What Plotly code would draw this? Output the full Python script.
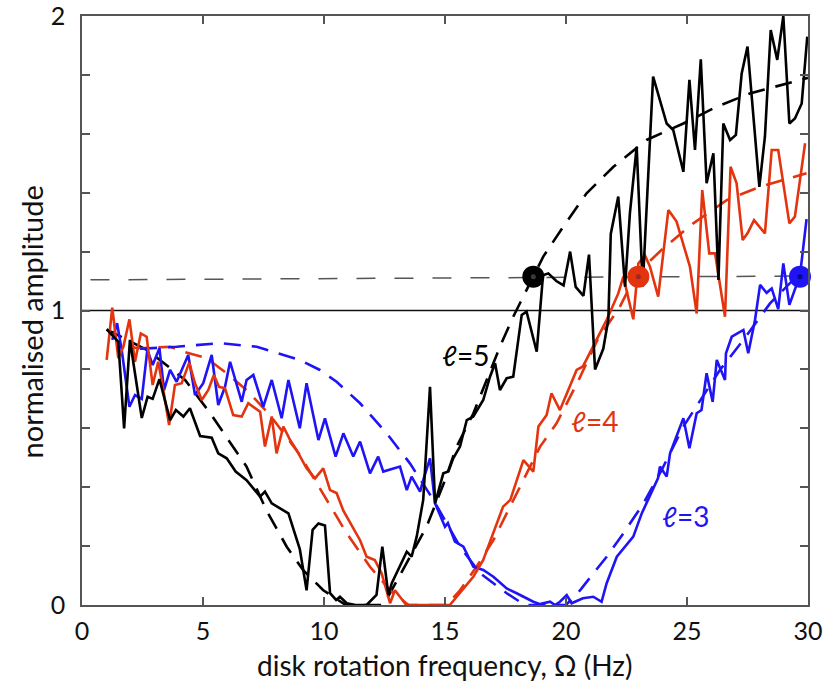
import plotly.graph_objects as go

# ---------------- data ----------------
bk_x = [1.02, 1.5, 1.74, 1.98, 2.47, 2.71, 2.92, 3.2, 3.64, 3.88, 4.19, 4.46, 4.88, 5.36, 5.63, 5.98,
        6.35, 6.8, 7.36, 7.56, 7.84, 8.53, 9.0, 9.28, 9.53, 9.77, 10.04, 10.25, 10.5, 10.66, 10.94,
        11.3, 11.76, 12.17, 12.41, 12.66, 12.8, 13.14, 13.42, 13.62, 13.83, 14.1, 14.38, 14.59, 14.93,
        15.14, 15.34, 15.62, 15.9, 16.17, 16.58, 16.86, 17.07, 17.27, 17.55, 17.82, 18.17, 18.37, 18.79,
        19.05, 19.27, 19.6, 19.9, 20.17, 20.4, 20.72, 20.95, 21.2, 21.54, 21.75, 21.85, 22.16, 22.44,
        22.64, 22.92, 23.17, 23.6, 24.16, 24.43, 24.85, 25.1, 25.33, 25.57, 25.81, 26.09, 26.3, 26.5,
        26.78, 27.02, 27.26, 27.5, 27.99, 28.22, 28.46, 28.73, 28.98, 29.23, 29.46, 29.74, 29.97]
bk_y = [0.936, 0.894, 0.60, 0.90, 0.635, 0.707, 0.70, 0.767, 0.628, 0.662, 0.64, 0.668, 0.574, 0.568,
        0.515, 0.498, 0.453, 0.424, 0.368, 0.385, 0.345, 0.311, 0.19, 0.05, 0.255, 0.277, 0.27, 0.04,
        0.017, 0.028, 0.006, 0.0, 0.0, 0.034, 0.198, 0.034, 0.074, 0.13, 0.181, 0.164, 0.232, 0.357,
        0.741, 0.345, 0.447, 0.453, 0.498, 0.538, 0.628, 0.64, 0.696, 0.775, 0.821, 0.73, 0.77, 0.775,
        0.985, 0.996, 0.86, 1.12, 1.126, 1.10, 1.085, 1.2, 1.08, 1.05, 1.19, 0.80, 0.87, 0.97, 1.26,
        1.387, 1.081, 1.33, 1.556, 1.081, 1.794, 1.635, 1.613, 1.471, 1.783, 1.545, 1.853, 1.432,
        1.534, 1.104, 1.635, 1.579, 1.596, 1.805, 1.896, 1.42, 1.59, 1.952, 1.851, 2.0, 1.635, 1.652,
        1.703, 1.93]

bkf_x = [1.02, 2.67, 3.22, 4.26, 5.29, 6.12, 6.8, 7.63, 8.46, 9.14, 9.97, 10.9, 12.45, 12.73, 14.24,
         15.0, 15.48, 16.17, 16.72, 17.27, 17.82, 19.06, 19.89, 20.85, 21.96, 23.33, 24.85, 26.23,
         27.6, 29.67, 30.0]
bkf_y = [0.936, 0.866, 0.832, 0.764, 0.652, 0.55, 0.47, 0.32, 0.198, 0.118, 0.05, 0.0, 0.0, 0.04,
         0.266, 0.424, 0.538, 0.65, 0.764, 0.877, 0.979, 1.183, 1.285, 1.398, 1.488, 1.579, 1.635,
         1.692, 1.737, 1.783, 1.79]

rd_x = [1.02, 1.25, 1.5, 1.71, 1.96, 2.19, 2.43, 2.67, 2.92, 3.15, 3.36, 3.6, 3.84, 4.12, 4.43, 4.67,
        4.95, 5.22, 5.45, 5.66, 5.91, 6.25, 6.6, 6.87, 7.36, 7.56, 7.84, 8.04, 8.32, 8.6, 8.87, 9.28,
        9.63, 9.97, 10.25, 10.52, 10.8, 11.07, 11.49, 11.76, 12.1, 12.38, 12.73, 12.93, 13.4, 15.2,
        15.6, 16.17, 16.58, 17.0, 17.4, 17.7, 17.96, 18.24, 18.65, 18.86, 19.2, 19.4, 19.75, 20.03,
        20.44, 20.7, 21.13, 21.68, 22.16, 22.37, 22.78, 22.99, 23.26, 23.47, 23.81, 24.23, 24.57,
        25.12, 25.4, 25.63, 25.92, 26.16, 26.57, 26.8, 27.05, 27.3, 27.5, 27.77, 28.22, 28.5, 28.77,
        29.23, 29.46, 29.88]
rd_y = [0.832, 1.01, 0.838, 0.877, 0.97, 0.826, 0.922, 0.911, 0.747, 0.826, 0.73, 0.611, 0.747, 0.753,
        0.823, 0.753, 0.696, 0.73, 0.781, 0.741, 0.736, 0.645, 0.64, 0.685, 0.656, 0.538, 0.64, 0.515,
        0.606, 0.56, 0.526, 0.464, 0.43, 0.464, 0.39, 0.38, 0.32, 0.28, 0.22, 0.164, 0.153, 0.108,
        0.006, 0.05, 0.0, 0.0, 0.04, 0.096, 0.153, 0.243, 0.334, 0.357, 0.424, 0.492, 0.453, 0.606,
        0.645, 0.719, 0.662, 0.719, 0.798, 0.81, 0.877, 0.968, 1.058, 1.115, 0.97, 1.16, 1.188, 1.149,
        1.047, 1.341, 1.302, 1.149, 0.99, 1.409, 1.194, 1.194, 0.979, 1.488, 1.432, 1.239, 1.262,
        1.307, 1.262, 1.545, 1.545, 1.296, 1.319, 1.568]

rdf_x = [2.0, 2.47, 3.64, 4.19, 5.15, 5.98, 6.8, 7.77, 9.0, 10.1, 10.94, 11.9, 12.73, 13.4, 13.5,
         15.07, 15.62, 16.3, 17.0, 17.55, 18.24, 18.93, 19.61, 20.5, 21.3, 22.23, 22.92, 24.02, 25.26,
         26.64, 28.02, 29.94]
rdf_y = [0.875, 0.872, 0.877, 0.86, 0.838, 0.787, 0.73, 0.645, 0.51, 0.36, 0.243, 0.13, 0.05, 0.006,
         0.0, 0.0, 0.05, 0.13, 0.22, 0.311, 0.424, 0.538, 0.617, 0.76, 0.9, 1.013, 1.126, 1.211, 1.296,
         1.375, 1.42, 1.466]

bl_x = [1.25, 1.45, 1.64, 1.96, 2.19, 2.47, 2.7, 2.92, 3.2, 3.39, 3.64, 3.91, 4.39, 4.67, 5.01, 5.36,
        5.63, 5.91, 6.12, 6.6, 6.8, 7.08, 7.49, 7.84, 8.25, 8.53, 9.0, 9.28, 9.77, 10.04, 10.48, 10.8,
        11.21, 11.49, 11.9, 12.24, 12.45, 13.14, 13.42, 13.62, 13.97, 14.1, 14.38, 14.59, 15.0, 15.12,
        15.41, 15.76, 16.17, 16.58, 17.0, 17.55, 17.96, 18.37, 18.65, 18.93, 19.34, 19.55, 19.75,
        20.03, 20.23, 20.7, 21.13, 21.47, 21.68, 22.1, 22.78, 23.13, 23.4, 23.8, 23.88, 24.16, 24.3,
        24.85, 25.1, 25.4, 25.6, 25.81, 26.06, 26.23, 26.57, 26.61, 26.85, 27.33, 27.53, 27.81, 28.02,
        28.29, 28.5, 28.77, 28.98, 29.23, 29.67, 29.94]
bl_y = [0.90, 0.957, 0.866, 0.673, 0.713, 0.70, 0.866, 0.815, 0.872, 0.73, 0.798, 0.758, 0.849, 0.713,
        0.753, 0.849, 0.679, 0.741, 0.826, 0.69, 0.764, 0.781, 0.673, 0.764, 0.634, 0.764, 0.6, 0.753,
        0.56, 0.634, 0.504, 0.583, 0.504, 0.555, 0.447, 0.504, 0.453, 0.47, 0.39, 0.436, 0.385, 0.424,
        0.498, 0.345, 0.266, 0.278, 0.215, 0.198, 0.13, 0.119, 0.096, 0.056, 0.04, 0.023, 0.011, 0.003,
        0.011, 0.0, 0.011, 0.034, 0.006, 0.023, 0.028, 0.011, 0.074, 0.164, 0.232, 0.311, 0.357, 0.43,
        0.47, 0.436, 0.515, 0.634, 0.532, 0.651, 0.662, 0.787, 0.69, 0.832, 0.764, 0.855, 0.911, 0.934,
        0.855, 0.968, 1.087, 1.06, 1.075, 1.005, 1.16, 1.019, 1.12, 1.31]

blf_x = [2.4, 3.91, 5.7, 7.22, 9.0, 9.83, 10.52, 11.49, 12.59, 13.55, 14.52, 15.62, 16.45, 17.55,
         18.3, 20.0, 20.58, 21.68, 22.37, 23.2, 23.95, 24.85, 26.36, 27.33, 28.43, 29.39]
blf_y = [0.87, 0.877, 0.889, 0.877, 0.832, 0.798, 0.758, 0.685, 0.583, 0.481, 0.357, 0.198, 0.108,
         0.04, 0.0, 0.0, 0.05, 0.164, 0.243, 0.345, 0.458, 0.606, 0.798, 0.9, 1.024, 1.104]

thr_x = [0.35, 29.9]
thr_y = [1.104, 1.117]
unit_x = [0, 30]
unit_y = [1, 1]

onset_x = [18.65, 22.99, 29.67]
onset_y = [1.115, 1.115, 1.115]

labels = ["ℓ=5", "ℓ=4", "ℓ=3"]
label_x = [15.87, 21.2, 24.96]
label_y = [0.849, 0.625, 0.302]

x_ticks = [0, 5, 10, 15, 20, 25, 30]
y_ticks = [0, 0.2, 0.4, 0.6, 0.8, 1.0, 1.2, 1.4, 1.6, 1.8, 2.0]
y_ticktext = ["0", "", "", "", "", "1", "", "", "", "", "2"]

# ---------------- styling ----------------
BLACK = "#000000"
RED = "#e4340f"
BLUE = "#1f14f5"
FONT = "Lato, DejaVu Sans, sans-serif"
LW = 2.6

fig = go.Figure()

fig.add_trace(go.Scatter(x=unit_x, y=unit_y, mode="lines",
                         line=dict(color="#111111", width=1.4), hoverinfo="skip"))
fig.add_trace(go.Scatter(x=thr_x, y=thr_y, mode="lines",
                         line=dict(color="#555555", width=1.5, dash="19px,19px"), hoverinfo="skip"))

for fx, fy, c in [(bkf_x, bkf_y, BLACK), (rdf_x, rdf_y, RED), (blf_x, blf_y, BLUE)]:
    fig.add_trace(go.Scatter(x=fx, y=fy, mode="lines",
                             line=dict(color=c, width=LW, dash="17px,11px"), hoverinfo="skip"))

for dx, dy, c in [(bl_x, bl_y, BLUE), (rd_x, rd_y, RED), (bk_x, bk_y, BLACK)]:
    fig.add_trace(go.Scatter(x=dx, y=dy, mode="lines",
                             line=dict(color=c, width=LW), hoverinfo="skip"))

fig.add_trace(go.Scatter(x=onset_x, y=onset_y, mode="markers",
                         marker=dict(size=22, color=[BLACK, RED, BLUE], line=dict(width=0)),
                         cliponaxis=False, hoverinfo="skip"))
fig.add_trace(go.Scatter(x=onset_x, y=onset_y, mode="markers",
                         marker=dict(size=5, color=["#3a3a3a", "#9a2a1a", "#0a0a80"], line=dict(width=0)),
                         cliponaxis=False, hoverinfo="skip"))

for t, lx, ly, c in zip(labels, label_x, label_y, [BLACK, RED, BLUE]):
    fig.add_annotation(x=lx, y=ly, xref="x", yref="y", text=t, showarrow=False,
                       font=dict(family=FONT, size=28, color=c), xanchor="center", yanchor="middle")

fig.add_annotation(x=0.5, y=-0.102, xref="paper", yref="paper", showarrow=False,
                   text="disk rotation frequency, Ω (Hz)", xanchor="center", yanchor="middle",
                   font=dict(family=FONT, size=28, color="#111111"))
fig.add_annotation(x=-0.070, y=0.48, xref="paper", yref="paper", showarrow=False,
                   text="normalised amplitude", textangle=-90, xanchor="center", yanchor="middle",
                   font=dict(family=FONT, size=29, color="#111111"))

axis_common = dict(showgrid=False, zeroline=False, ticks="inside", ticklen=8, tickwidth=1.5,
                   tickcolor="#555555", showline=True, linecolor="#555555", linewidth=1.5,
                   mirror="ticks", ticklabeloverflow="allow", automargin=False,
                   tickfont=dict(family=FONT, size=25, color="#111111"))

fig.update_xaxes(range=[0, 30], tickmode="array", tickvals=x_ticks,
                 ticktext=[str(v) for v in x_ticks], ticklabelstandoff=3, **axis_common)
fig.update_yaxes(range=[0, 2], tickmode="array", tickvals=y_ticks, ticktext=y_ticktext,
                 ticklabelstandoff=10, **axis_common)

fig.update_layout(width=823, height=683, showlegend=False,
                  margin=dict(l=82, r=15, t=16, b=78),
                  paper_bgcolor="white", plot_bgcolor="white")

# remove the browser's default 8px body margin so the figure fills the window exactly
fig.write_html("out.html", config={"displayModeBar": False},
               post_script="document.body.style.margin='0';document.body.style.overflow='hidden';")
